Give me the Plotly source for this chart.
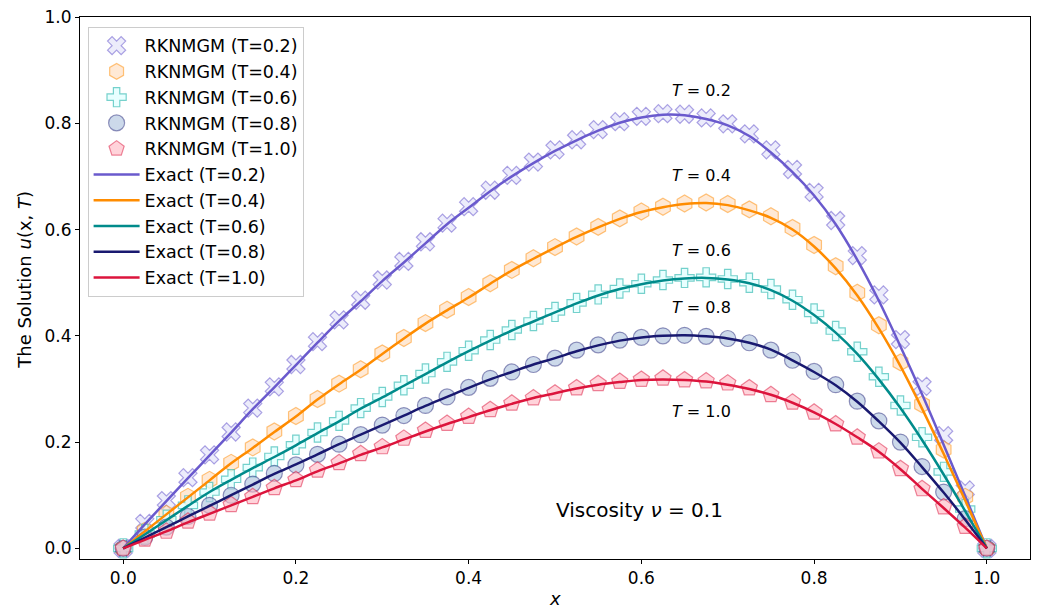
import plotly.graph_objects as go

x_grid = [i / 40 for i in range(41)]

# Exact solutions (x = 0, 0.025, ..., 1.0)
exact_T02 = [0.0, 0.045, 0.089, 0.132, 0.175, 0.218, 0.262, 0.303, 0.345, 0.387,
             0.428, 0.465, 0.503, 0.538, 0.574, 0.610, 0.641, 0.672, 0.700, 0.725,
             0.748, 0.768, 0.786, 0.801, 0.811, 0.816, 0.815, 0.808, 0.796, 0.776,
             0.745, 0.708, 0.664, 0.610, 0.543, 0.466, 0.380, 0.290, 0.195, 0.098, 0.0]
exact_T04 = [0.0, 0.032, 0.064, 0.096, 0.128, 0.160, 0.189, 0.219, 0.248, 0.280,
             0.309, 0.336, 0.366, 0.395, 0.423, 0.448, 0.472, 0.498, 0.523, 0.545,
             0.566, 0.586, 0.604, 0.620, 0.633, 0.642, 0.648, 0.650, 0.646, 0.636,
             0.622, 0.600, 0.568, 0.527, 0.476, 0.414, 0.343, 0.263, 0.178, 0.090, 0.0]
exact_T06 = [0.0, 0.026, 0.053, 0.080, 0.106, 0.129, 0.151, 0.172, 0.194, 0.217,
             0.239, 0.263, 0.284, 0.306, 0.328, 0.350, 0.371, 0.391, 0.410, 0.427,
             0.444, 0.461, 0.476, 0.488, 0.497, 0.504, 0.508, 0.509, 0.506, 0.499,
             0.486, 0.466, 0.439, 0.406, 0.366, 0.318, 0.264, 0.204, 0.139, 0.070, 0.0]
exact_T08 = [0.0, 0.020, 0.040, 0.060, 0.080, 0.100, 0.120, 0.140, 0.158, 0.177,
             0.196, 0.214, 0.232, 0.250, 0.268, 0.285, 0.302, 0.318, 0.332, 0.346,
             0.358, 0.371, 0.382, 0.391, 0.397, 0.400, 0.401, 0.399, 0.395, 0.387,
             0.374, 0.354, 0.332, 0.307, 0.276, 0.239, 0.199, 0.153, 0.105, 0.054, 0.0]
exact_T10 = [0.0, 0.016, 0.032, 0.049, 0.065, 0.081, 0.097, 0.113, 0.128, 0.145,
             0.160, 0.176, 0.190, 0.205, 0.220, 0.234, 0.247, 0.260, 0.272, 0.283,
             0.292, 0.301, 0.308, 0.313, 0.317, 0.318, 0.317, 0.314, 0.308, 0.300,
             0.289, 0.274, 0.256, 0.234, 0.209, 0.182, 0.149, 0.112, 0.076, 0.039, 0.0]

# RKNMGM numerical values
num_T02 = [0.0, 0.047, 0.090, 0.133, 0.176, 0.219, 0.264, 0.304, 0.346, 0.389,
           0.430, 0.467, 0.505, 0.540, 0.577, 0.612, 0.643, 0.674, 0.702, 0.727,
           0.750, 0.769, 0.788, 0.803, 0.813, 0.818, 0.817, 0.810, 0.799, 0.780,
           0.750, 0.713, 0.670, 0.617, 0.551, 0.477, 0.393, 0.305, 0.212, 0.110, 0.0]
num_T04 = [0.0, 0.033, 0.065, 0.097, 0.129, 0.161, 0.190, 0.220, 0.249, 0.281,
           0.310, 0.337, 0.367, 0.396, 0.424, 0.449, 0.473, 0.499, 0.524, 0.546,
           0.567, 0.587, 0.605, 0.621, 0.634, 0.643, 0.649, 0.651, 0.648, 0.638,
           0.625, 0.603, 0.571, 0.531, 0.481, 0.420, 0.350, 0.271, 0.186, 0.097, 0.0]
num_T06 = [0.0, 0.027, 0.054, 0.081, 0.106, 0.130, 0.152, 0.173, 0.195, 0.218,
           0.240, 0.264, 0.285, 0.307, 0.329, 0.351, 0.372, 0.392, 0.411, 0.428,
           0.445, 0.462, 0.478, 0.489, 0.498, 0.505, 0.509, 0.510, 0.507, 0.500,
           0.488, 0.468, 0.442, 0.409, 0.370, 0.323, 0.269, 0.209, 0.144, 0.074, 0.0]
num_T08 = [0.0, 0.021, 0.040, 0.060, 0.081, 0.100, 0.121, 0.141, 0.157, 0.177,
           0.196, 0.214, 0.232, 0.250, 0.269, 0.285, 0.303, 0.320, 0.332, 0.346,
           0.358, 0.373, 0.383, 0.392, 0.397, 0.400, 0.401, 0.399, 0.395, 0.387,
           0.373, 0.354, 0.333, 0.308, 0.277, 0.240, 0.200, 0.154, 0.106, 0.056, 0.0]
num_T10 = [0.0, 0.017, 0.032, 0.051, 0.066, 0.082, 0.097, 0.114, 0.129, 0.147,
           0.161, 0.178, 0.191, 0.207, 0.222, 0.235, 0.248, 0.261, 0.273, 0.283,
           0.292, 0.302, 0.310, 0.314, 0.318, 0.320, 0.317, 0.315, 0.311, 0.302,
           0.289, 0.275, 0.256, 0.234, 0.209, 0.183, 0.150, 0.112, 0.078, 0.041, 0.0]

times = ["0.2", "0.4", "0.6", "0.8", "1.0"]
exact_sets = [exact_T02, exact_T04, exact_T06, exact_T08, exact_T10]
num_sets = [num_T02, num_T04, num_T06, num_T08, num_T10]

line_colors = ["#6A5ACD", "#FF8C00", "#008B8B", "#191970", "#DC143C"]
marker_symbols = ["x", "hexagon", "cross", "circle", "pentagon"]
marker_fill = ["rgba(230,230,250,0.75)", "rgba(255,218,185,0.6)", "rgba(224,255,255,0.75)",
               "rgba(176,196,222,0.65)", "rgba(255,182,193,0.6)"]
marker_edge = ["rgba(106,90,205,0.55)", "rgba(255,140,0,0.5)", "rgba(32,178,170,0.6)",
               "rgba(25,25,112,0.45)", "rgba(220,20,60,0.5)"]
marker_sizes = [16, 17, 16, 16, 17]

label_x = [0.67, 0.67, 0.67, 0.67, 0.67]
label_y = [0.862, 0.702, 0.561, 0.454, 0.258]

FONT = "DejaVu Sans"
fig = go.Figure()

for i, t in enumerate(times):
    fig.add_trace(go.Scatter(
        x=x_grid, y=num_sets[i], mode="markers",
        name=f"RKNMGM (T={t})", legendgroup=f"n{i}",
        marker=dict(symbol=marker_symbols[i], size=marker_sizes[i], color=marker_fill[i],
                    line=dict(color=marker_edge[i], width=1.2)),
    ))
for i, t in enumerate(times):
    fig.add_trace(go.Scatter(
        x=x_grid, y=exact_sets[i], mode="lines", line_shape="spline",
        name=f"Exact (T={t})", legendgroup=f"e{i}",
        line=dict(color=line_colors[i], width=2.5),
    ))

for i, t in enumerate(times):
    fig.add_annotation(x=label_x[i], y=label_y[i], text=f"<i>T</i> = {t}",
                       showarrow=False, font=dict(family=FONT, size=16, color="black"))

fig.add_annotation(x=0.598, y=0.072, text="Viscosity <i>ν</i> = 0.1", showarrow=False,
                   font=dict(family=FONT, size=20, color="black"))

# axis titles
fig.add_annotation(xref="paper", yref="paper", x=-0.058, y=0.515, textangle=-90,
                   text="The Solution <i>u</i>(x, <i>T</i>)", showarrow=False,
                   xanchor="center", yanchor="middle",
                   font=dict(family=FONT, size=18, color="black"))
fig.add_annotation(xref="paper", yref="paper", x=0.5, y=-0.072,
                   text="<i>x</i>", showarrow=False, xanchor="center", yanchor="middle",
                   font=dict(family=FONT, size=18, color="black"))

axis_common = dict(showline=True, linecolor="black", linewidth=1, mirror=True,
                   ticks="outside", ticklen=4, tickcolor="black", showgrid=False,
                   zeroline=False, automargin=False,
                   tickfont=dict(family=FONT, size=17, color="black"))

fig.update_xaxes(range=[-0.05, 1.05], tickvals=[0, 0.2, 0.4, 0.6, 0.8, 1.0],
                 ticktext=["0.0", "0.2", "0.4", "0.6", "0.8", "1.0"], **axis_common)
fig.update_yaxes(range=[-0.02, 1.0], tickvals=[0, 0.2, 0.4, 0.6, 0.8, 1.0],
                 ticktext=["0.0", "0.2", "0.4", "0.6", "0.8", "1.0"], **axis_common)

fig.update_layout(
    width=1037, height=610,
    margin=dict(l=80, r=7, t=17, b=51),
    plot_bgcolor="white", paper_bgcolor="white",
    font=dict(family=FONT, color="black"),
    legend=dict(x=0.008, y=0.982, xanchor="left", yanchor="top",
                bgcolor="rgba(255,255,255,0.8)", bordercolor="#cccccc", borderwidth=1,
                font=dict(family=FONT, size=17.5, color="black"),
                itemwidth=46, traceorder="grouped", tracegroupgap=0),
)

fig.write_html("out.html", config={"displayModeBar": False},
               post_script="document.body.style.margin='0';")
